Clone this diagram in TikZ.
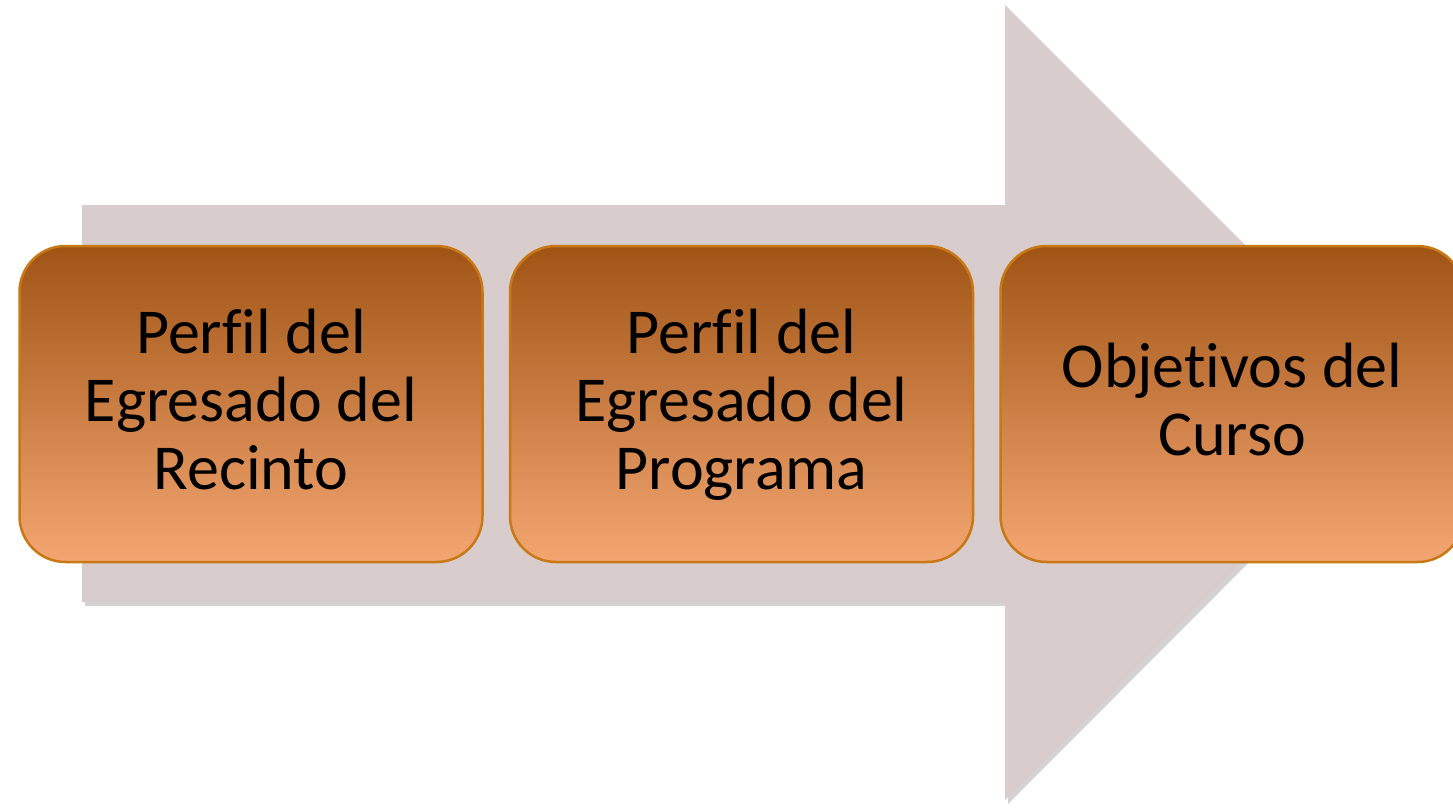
\documentclass[tikz,border=0pt]{standalone}
\usepackage{fontspec}
\setmainfont[Ligatures=NoCommon]{Carlito}
\usepackage{xcolor}
\usepackage{tikz}
\usetikzlibrary{positioning, shadows}
\definecolor{arrowcolor}{RGB}{216, 204, 205}
\definecolor{boxtop}{RGB}{160, 84, 20}
\definecolor{boxbottom}{RGB}{244, 166, 114}
\definecolor{boxborder}{RGB}{200, 120, 20}
\newcommand{\boxstrut}{\vrule height 51pt depth 17pt width 0pt}

\begin{document}
\begin{tikzpicture}[x=1pt, y=-1pt,
    stagebox/.style={rectangle, rounded corners=46pt, minimum width=463pt, minimum height=316pt,
                     draw=boxborder, line width=2.5pt, top color=boxtop, bottom color=boxbottom,
                     align=center, text=black, inner sep=0pt,
                     font=\fontsize{64}{68}\selectfont}
]
\useasboundingbox (0,0) rectangle (1453,807);
\clip (0,0) rectangle (1453,807);

% Background arrow
\fill[arrowcolor, drop shadow={shadow xshift=3pt, shadow yshift=-4pt, opacity=0.35}]
    (82,205) -- (1005,205) -- (1005,5) -- (1402,402) -- (1005,800) -- (1005,602) -- (82,602) -- cycle;

% Stage boxes
\node[stagebox] (recinto) at (251,404) {\boxstrut Perfil del\\Egresado del\\Recinto\boxstrut};
\node[stagebox, right=25pt of recinto] (programa) {\boxstrut Perfil del\\Egresado del\\Programa\boxstrut};
\node[stagebox, right=25pt of programa] (curso) {\boxstrut Objetivos del\\Curso\boxstrut};

\end{tikzpicture}
\end{document}
